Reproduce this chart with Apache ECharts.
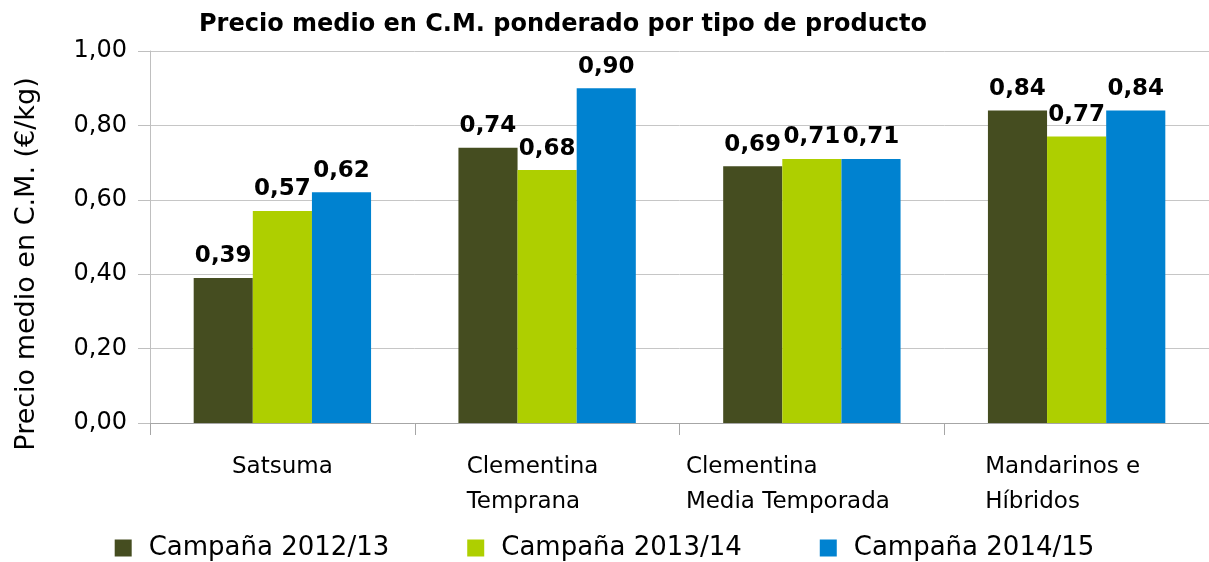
<!DOCTYPE html>
<html>
<head>
<meta charset="utf-8">
<script src="https://cdn.jsdelivr.net/npm/echarts@6/dist/echarts.min.js"></script>
<style>
    html, body {margin: 0; padding: 0; background: #fff;}
    #container {width: 1209px; height: 562px;}
</style>
</head>
<body>
<div id="container"></div>
<script>
// datos
var categorias = ['Satsuma', 'Clementina\nTemprana', 'Clementina\nMedia Temporada', 'Mandarinos e\nHíbridos'];
var campanas = ['Campaña 2012/13', 'Campaña 2013/14', 'Campaña 2014/15'];
var c2012 = [0.39, 0.74, 0.69, 0.84];
var c2013 = [0.57, 0.68, 0.71, 0.77];
var c2014 = [0.62, 0.90, 0.71, 0.84];
var colores = ['#454d20', '#aecf00', '#0082d0'];

var fuente = "'DejaVu Sans', sans-serif";

// ancho de cada etiqueta (para alinear las lineas a la izquierda)
var anchos = [0, 161, 252, 183];

var serie = function (nombre, datos, color) {
    return {
        name: nombre,
        type: 'bar',
        data: datos,
        barGap: 0,
        barCategoryGap: '33%',
        itemStyle: {color: color},
        label: {
            show: true,
            position: 'top',
            distance: 10,
            fontFamily: fuente,
            fontWeight: 'bold',
            fontSize: 23,
            color: '#000',
            formatter: function (p) {
                return p.value.toFixed(2).replace('.', ',');
            }
        }
    };
};

var estiloLinea = function (w) {
    return {width: w, align: 'left', fontFamily: fuente, fontSize: 23, lineHeight: 35, color: '#000'};
};

var myChart = echarts.init(document.getElementById('container'));
myChart.setOption({
    animation: false,
    title: {
        text: 'Precio medio en C.M. ponderado por tipo de producto',
        left: 194,
        top: 8,
        textStyle: {
            fontFamily: fuente,
            fontWeight: 'bold',
            fontSize: 24,
            color: '#000'
        }
    },
    legend: {
        bottom: -4,
        left: 'center',
        itemWidth: 17,
        itemHeight: 17,
        itemGap: 78,
        icon: 'rect',
        textStyle: {fontFamily: fuente, fontSize: 26, color: '#000', padding: [0, 0, 0, 12]},
        data: campanas
    },
    grid: {left: 150, right: 0, top: 51, bottom: 139},
    xAxis: {
        type: 'category',
        data: categorias,
        axisLine: {lineStyle: {color: '#a6a6a6', width: 1}},
        axisTick: {show: true, length: 12, lineStyle: {color: '#a6a6a6'}},
        axisLabel: {
            margin: 27,
            interval: 0,
            fontFamily: fuente,
            fontSize: 23,
            color: '#000',
            lineHeight: 35,
            formatter: function (v, i) {
                if (v.indexOf('\n') < 0) return v;
                return v.split('\n').map(function (l) { return '{w' + i + '|' + l + '}'; }).join('\n');
            },
            rich: {
                w1: estiloLinea(anchos[1]),
                w2: estiloLinea(anchos[2]),
                w3: estiloLinea(anchos[3])
            }
        }
    },
    yAxis: {
        type: 'value',
        min: 0,
        max: 1,
        interval: 0.2,
        name: 'Precio medio en C.M. (€/kg)',
        nameLocation: 'middle',
        nameGap: 110,
        nameTextStyle: {fontFamily: fuente, fontSize: 27, color: '#000', padding: [0, 54, 0, 0]},
        axisLine: {show: true, lineStyle: {color: '#bfbfbf'}},
        axisTick: {show: true, length: 12, lineStyle: {color: '#bfbfbf'}},
        splitLine: {lineStyle: {color: '#c6c6c6'}},
        axisLabel: {
            margin: 23,
            fontFamily: fuente,
            fontSize: 24,
            color: '#000',
            formatter: function (v) {
                return v.toFixed(2).replace('.', ',');
            }
        }
    },
    series: [
        serie(campanas[0], c2012, colores[0]),
        serie(campanas[1], c2013, colores[1]),
        serie(campanas[2], c2014, colores[2])
    ]
});
</script>
</body>
</html>
